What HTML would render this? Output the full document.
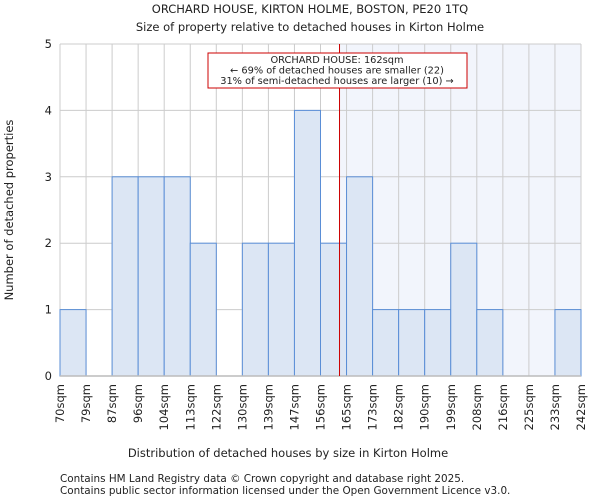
<!DOCTYPE html>
<html><head><meta charset="utf-8"><style>
body{margin:0;background:#fff;font-family:"DejaVu Sans","Liberation Sans",sans-serif;}
svg text{font-family:"DejaVu Sans","Liberation Sans",sans-serif;fill:#222;}
</style></head><body>
<svg id="c" width="600" height="500">
<text x="310" y="13" text-anchor="middle" font-size="11.5">ORCHARD HOUSE, KIRTON HOLME, BOSTON, PE20 1TQ</text>
<text x="310" y="31" text-anchor="middle" font-size="11.5">Size of property relative to detached houses in Kirton Holme</text>
<g id="g"></g>
<text x="288" y="457" text-anchor="middle" font-size="11.5">Distribution of detached houses by size in Kirton Holme</text>
<text transform="translate(13,210) rotate(-90)" text-anchor="middle" font-size="11.5">Number of detached properties</text>
<text x="60" y="482" font-size="10.4">Contains HM Land Registry data © Crown copyright and database right 2025.</text>
<text x="60" y="494" font-size="10.4">Contains public sector information licensed under the Open Government Licence v3.0.</text>
</svg>
<script>
const categories=["70sqm","79sqm","87sqm","96sqm","104sqm","113sqm","122sqm","130sqm","139sqm","147sqm","156sqm","165sqm","173sqm","182sqm","190sqm","199sqm","208sqm","216sqm","225sqm","233sqm","242sqm"];
const counts=[1,0,3,3,3,2,0,2,2,4,2,3,1,1,1,2,1,0,0,1];
const yTicks=[0,1,2,3,4,5];
const markerIndex=10.73;
const NS="http://www.w3.org/2000/svg";
const g=document.getElementById('g');
const L=60,R=581,T=44,B=376,bw=(R-L)/counts.length;
const xs=i=>L+i*bw, ys=v=>B-(B-T)*v/5;
function el(t,a){const e=document.createElementNS(NS,t);for(const k in a)e.setAttribute(k,a[k]);g.appendChild(e);return e;}
const mx=xs(markerIndex);
let e=el('rect',{x:mx,y:T,width:R-mx,height:B-T,fill:'#f2f5fc'});


yTicks.forEach(v=>{let l=el('line',{x1:L,x2:R,y1:ys(v),y2:ys(v),stroke:'#ccc','stroke-width':1});


let t=el('text',{x:L-8,y:ys(v)+4,'text-anchor':'end','font-size':11.5});t.textContent=v;

});
categories.forEach((c,i)=>{let l=el('line',{x1:xs(i),x2:xs(i),y1:T,y2:B,stroke:'#ccc','stroke-width':1});


let t=el('text',{transform:`translate(${xs(i)+4},${B+8}) rotate(-90)`,'text-anchor':'end','font-size':11.5});t.textContent=c;

});
counts.forEach((v,i)=>{if(!v)return;let r=el('rect',{x:xs(i),y:ys(v),width:bw,height:B-ys(v),fill:'#dce6f4',stroke:'#5a8ed6','stroke-width':1});

});
e=el('line',{x1:L,x2:R,y1:B,y2:B,stroke:'#bbb','stroke-width':1.5});


e=el('line',{x1:mx,x2:mx,y1:T,y2:B,stroke:'#c00','stroke-width':1});


e=el('rect',{x:208,y:53,width:259,height:35,fill:'#fff',stroke:'#c00','stroke-width':1});


["ORCHARD HOUSE: 162sqm","← 69% of detached houses are smaller (22)","31% of semi-detached houses are larger (10) →"].forEach((s,i)=>{let t=el('text',{x:337,y:63+i*10.5,'text-anchor':'middle','font-size':9.8});t.textContent=s;

});
</script>
</body></html>
